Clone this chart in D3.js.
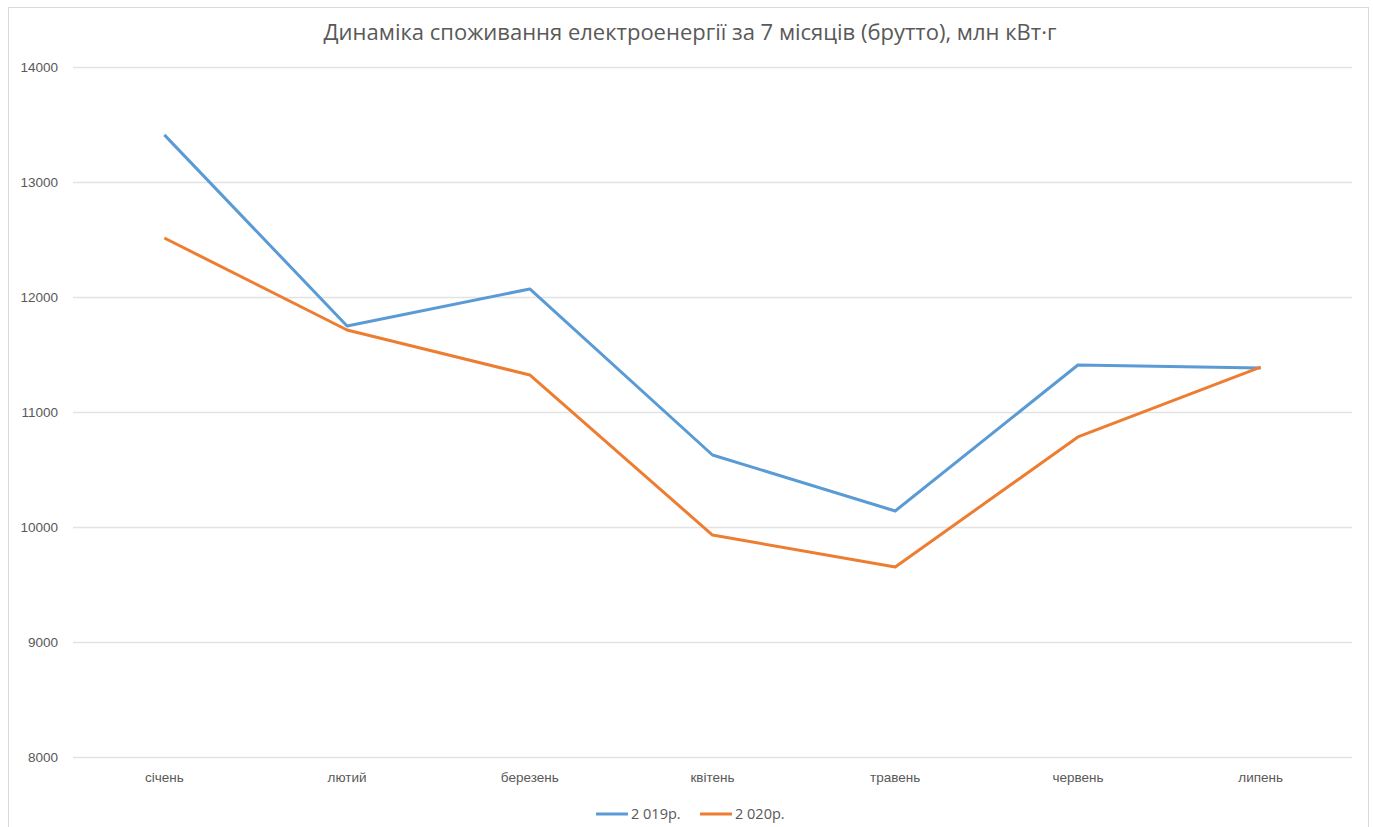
<!DOCTYPE html>
<html>
<head>
<meta charset="utf-8">
<script src="https://cdn.jsdelivr.net/npm/d3@7"></script>
<style>
  body { margin: 0; background: #fff; }
  svg { display: block; font-family: "Open Sans", "DejaVu Sans", sans-serif; }
</style>
</head>
<body>
<svg id="chart" width="1373" height="827"></svg>
<script>
const months = ["січень", "лютий", "березень", "квітень", "травень", "червень", "липень"];
const values2019 = [13410, 11748, 12070, 10626, 10139, 11409, 11383];
const values2020 = [12513, 11713, 11322, 9930, 9652, 10783, 11391];
const yTicks = [8000, 9000, 10000, 11000, 12000, 13000, 14000];
const seriesNames = ["2 019р.", "2 020р."];
const colors = ["#5B9BD5", "#ED7D31"];

var svg = d3.select("#chart");
var width = 1373, height = 827;
var margin = {top: 67, right: 21, bottom: 70, left: 73};

// chart frame
svg.append("rect")
    .attr("x", 8.5)
    .attr("y", 7.5)
    .attr("width", 1360)
    .attr("height", 830)
    .attr("fill", "none")
    .attr("stroke", "#d9d9d9");

var x = d3.scaleBand()
    .domain(months)
    .range([margin.left, width - margin.right]);

var y = d3.scaleLinear()
    .domain([8000, 14000])
    .range([height - margin.bottom, margin.top]);

// gridlines
svg.append("g")
    .selectAll("line")
    .data(yTicks)
    .enter().append("line")
    .attr("x1", margin.left)
    .attr("x2", width - margin.right)
    .attr("y1", d => y(d) + 0.5)
    .attr("y2", d => y(d) + 0.5)
    .attr("stroke", "#e3e3e3")
    .attr("stroke-width", 1.3);

// y axis labels
var yAxis = svg.append("g")
    .attr("transform", "translate(" + (margin.left - 15) + ",0)")
    .call(d3.axisLeft(y).tickValues(yTicks).tickSize(0).tickPadding(0).tickFormat(d3.format("d")));
yAxis.select(".domain").remove();
yAxis.selectAll("text")
    .attr("fill", "#595959")
    .style("font-size", "13.5px");

// x axis labels
var xAxis = svg.append("g")
    .attr("transform", "translate(0," + (height - margin.bottom) + ")")
    .call(d3.axisBottom(x).tickSize(0).tickPadding(15));
xAxis.select(".domain").remove();
xAxis.selectAll("text")
    .attr("fill", "#595959")
    .style("font-size", "13.5px");

// lines
var line = d3.line()
    .x((d, i) => x(months[i]) + x.bandwidth() / 2)
    .y(d => y(d));

[values2019, values2020].forEach((vals, i) => {
    svg.append("path")
        .datum(vals)
        .attr("d", line)
        .attr("fill", "none")
        .attr("stroke", colors[i])
        .attr("stroke-width", 3)
        .attr("stroke-linejoin", "round");
});

// title
svg.append("text")
    .attr("x", 690)
    .attr("y", 40)
    .attr("text-anchor", "middle")
    .attr("fill", "#595959")
    .style("font-size", "22px")
    .text("Динаміка споживання електроенергії за 7 місяців (брутто), млн кВт·г");

// legend
var legend = svg.selectAll("g.legend")
    .data(seriesNames)
    .enter().append("g")
    .attr("class", "legend")
    .attr("transform", (d, i) => "translate(" + (596 + i * 104) + ",814)");

legend.append("line")
    .attr("x1", 0)
    .attr("x2", 32)
    .attr("stroke", (d, i) => colors[i])
    .attr("stroke-width", 3);

legend.append("text")
    .attr("x", 35)
    .attr("dy", "0.35em")
    .attr("fill", "#595959")
    .style("font-size", "14.5px")
    .text(d => d);
</script>
</body>
</html>
